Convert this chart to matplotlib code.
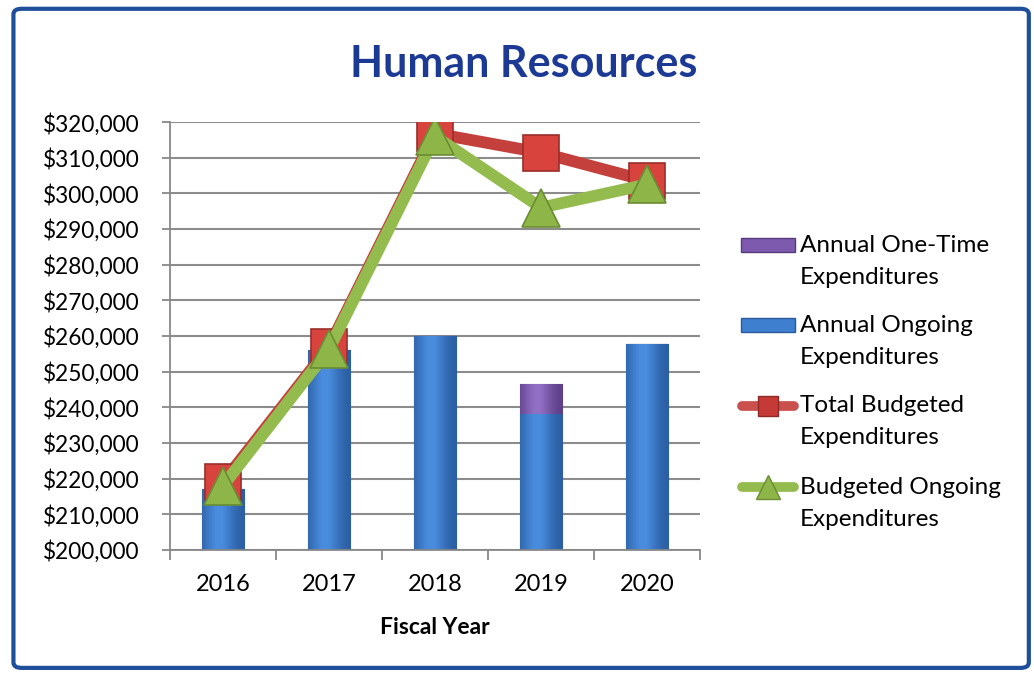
import numpy as np
import matplotlib
matplotlib.use('Agg')
from matplotlib import pyplot as plt
from matplotlib.patches import FancyBboxPatch, Rectangle
from matplotlib.lines import Line2D
from matplotlib.ticker import FuncFormatter

plt.rcParams['font.family'] = ['Lato', 'DejaVu Sans']

years = ['2016', '2017', '2018', '2019', '2020']
ongoing_actual = [217000, 256000, 260000, 238000, 257700]
one_time_actual = [0, 0, 0, 8500, 0]
total_budget = [219000, 257000, 316800, 311400, 303500]
ongoing_budget = [218000, 256300, 316000, 296000, 302500]

legend_labels = [('Annual One-Time', 'Expenditures'),
                 ('Annual Ongoing', 'Expenditures'),
                 ('Total Budgeted', 'Expenditures'),
                 ('Budgeted Ongoing', 'Expenditures')]

blue = '#3A78C6'
purple = '#7A56A8'
red = '#C4403C'
green = '#94BB4E'
y_min, y_max = 200000, 320000


def shade_bars(ax, bars, dark, light):
    # horizontal gradient across each bar to give it a rounded look
    grad = np.linspace(0, 1, 64)
    prof = np.exp(-((grad - 0.4) / 0.35) ** 2)
    cmap = matplotlib.colors.LinearSegmentedColormap.from_list('b', [dark, light])
    for b in bars:
        if b.get_height() <= 0:
            continue
        x0 = b.get_x()
        y0 = max(b.get_y(), y_min)
        y1 = min(b.get_y() + b.get_height(), y_max)
        im = ax.imshow(prof[np.newaxis, :], cmap=cmap, aspect='auto',
                       extent=(x0, x0 + b.get_width(), y0, y1),
                       origin='lower', zorder=b.get_zorder() + 0.1, vmin=0, vmax=1)
        im.set_clip_path(b)


fig = plt.figure(figsize=(10.34, 6.76), dpi=100)
ax = fig.add_axes([0.1644, 0.1864, 0.5126, 0.6331])

ind = np.arange(len(years))
p1 = ax.bar(ind, ongoing_actual, width=0.4, color=blue, edgecolor='#2A5A9A',
            linewidth=0.8, zorder=2)
p2 = ax.bar(ind, one_time_actual, width=0.4, bottom=ongoing_actual, color=purple,
            edgecolor='#563C7C', linewidth=0.8, zorder=2)
shade_bars(ax, p1, '#2A5CA0', '#4A8DDF')
shade_bars(ax, p2, '#5A3D86', '#9270C4')

ax.plot(ind, total_budget, color=red, lw=8.5, marker='s', markersize=26,
        markerfacecolor='#D9433E', markeredgecolor='#9A2E2A', markeredgewidth=1.2,
        zorder=4, solid_capstyle='round')
ax.plot(ind, ongoing_budget, color=green, lw=8.5, marker='^', markersize=28,
        markerfacecolor='#8DB548', markeredgecolor='#6A8C33', markeredgewidth=1.2,
        zorder=5, solid_capstyle='round')

ax.set_xlim(-0.5, 4.5)
ax.set_ylim(y_min, y_max)
ax.set_yticks(np.arange(y_min, y_max + 1, 10000))
ax.yaxis.set_major_formatter(FuncFormatter(lambda v, p: '${:,.0f}'.format(v)))
ax.set_xticks(ind)
ax.set_xticklabels(years)
ax.set_xticks(np.arange(-0.5, 5, 1), minor=True)
ax.tick_params(axis='x', which='major', length=0, labelsize=17, pad=17)
ax.tick_params(axis='x', which='minor', length=7, color='#888888', width=1.3)
ax.tick_params(axis='y', length=6, color='#888888', width=1.3, labelsize=16.3, pad=16)
ax.grid(axis='y', color='#8C8C8C', lw=1.5, zorder=0)
ax.set_axisbelow(True)
for s in ['top', 'right']:
    ax.spines[s].set_visible(False)
for s in ['left', 'bottom']:
    ax.spines[s].set_color('#888888')
    ax.spines[s].set_linewidth(1.3)

ax.set_xlabel('Fiscal Year', fontsize=16.5, fontweight='bold', labelpad=16)
fig.text(0.506, 0.906, 'Human Resources', ha='center', va='center',
         fontsize=31, fontweight='bold', color='#1C3A94')

# legend drawn by hand in pixel coordinates so the key sits beside the first line
lax = fig.add_axes([0, 0, 1, 1])
lax.set_xlim(0, 1034)
lax.set_ylim(676, 0)
lax.axis('off')
rows = [245, 325, 406, 487]
lax.add_patch(Rectangle((741, rows[0] - 7), 54, 14, facecolor='#7E5AAE',
                        edgecolor='#563C7C', lw=1))
lax.add_patch(Rectangle((741, rows[1] - 7), 54, 14, facecolor='#3F7FCF',
                        edgecolor='#2A5A9A', lw=1))
lax.add_line(Line2D([742, 794], [rows[2], rows[2]], color='#C9504C', lw=7,
                    solid_capstyle='round'))
lax.plot([768], [rows[2]], marker='s', markersize=15, color='#C53A36',
         markeredgecolor='#8C2A27')
lax.add_line(Line2D([742, 794], [rows[3], rows[3]], color=green, lw=7,
                    solid_capstyle='round'))
lax.plot([768], [rows[3]], marker='^', markersize=17, color='#8DB548',
         markeredgecolor='#6A8C33')
for y, (first, second) in zip(rows, legend_labels):
    lax.text(800, y, first, fontsize=17.5, va='center', ha='left')
    lax.text(800, y + 32, second, fontsize=17.5, va='center', ha='left')

fig.patches.append(FancyBboxPatch((0.013, 0.012), 0.982, 0.975,
                                  boxstyle='round,pad=0,rounding_size=0.008',
                                  transform=fig.transFigure, fill=False,
                                  edgecolor='#1F4E9A', lw=3))

fig.savefig('out.png', dpi=100)
